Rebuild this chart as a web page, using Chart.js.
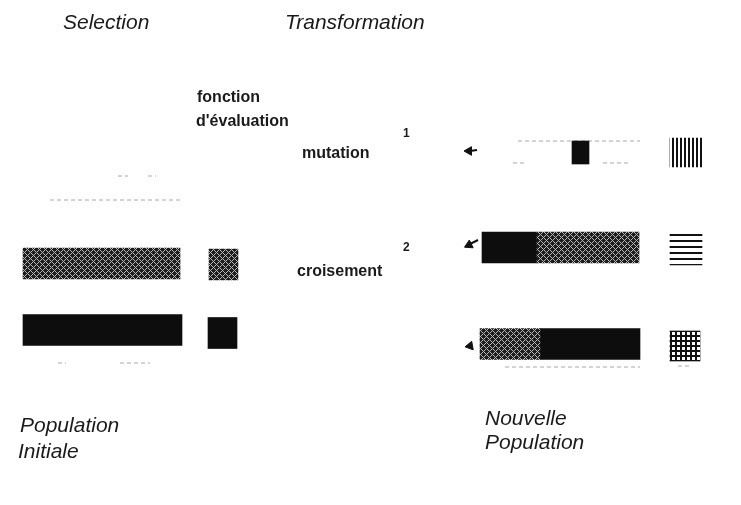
<!DOCTYPE html>
<html>
<head>
<meta charset="utf-8">
<script src="https://cdn.jsdelivr.net/npm/chart.js@4.4.1/dist/chart.umd.min.js"></script>
<style>
  html, body { margin: 0; padding: 0; background: #fff; }
  #wrap { width: 741px; height: 505px; }
</style>
</head>
<body>
<div id="wrap"><canvas id="myChart" width="741" height="505"></canvas></div>
<script>
// Chromosome blocks: [start, end, row]
const hatchBlocks = [[23, 180, 263.5], [209, 238, 264.5], [537, 639, 247.5], [480, 540, 344]];
const blackBlocks = [[23, 182, 330], [208, 237, 333], [482, 537, 247.5], [540, 640, 344]];
const mutatedBlocks = [[572, 589, 152.5]];
const vLineBlocks = [[670, 702, 152.5]];
const hLineBlocks = [[670, 702, 249]];
const gridBlocks = [[670, 700, 346]];

// arrows into the new population: [x, y, angle]
const arrows = [[469, 151, -90], [469, 245, -116], [470, 346, -100]];
// arrow tails: [x0, y0, x1, y1]
const arrowTails = [[470, 151, 477, 150], [470, 244, 478, 240]];

// faint scan remnants: [x0, x1, y]
const faintLines = [[118, 128, 176], [148, 156, 176], [50, 180, 200], [58, 66, 363], [120, 150, 363],
  [518, 640, 141], [513, 524, 163], [603, 630, 163], [505, 640, 367], [678, 692, 366]];

// text labels
const labels = [
  ['Selection', 63, 29, 'italic 21px "Liberation Sans"'],
  ['Transformation', 285, 29, 'italic 21px "Liberation Sans"'],
  ['fonction', 197, 102, 'bold 16px "Liberation Sans"'],
  ["d'évaluation", 196, 126, 'bold 16px "Liberation Sans"'],
  ['1', 403, 137, 'bold 12px "Liberation Sans"'],
  ['mutation', 302, 158, 'bold 16px "Liberation Sans"'],
  ['2', 403, 251, 'bold 12px "Liberation Sans"'],
  ['croisement', 297, 276, 'bold 16px "Liberation Sans"'],
  ['Population', 20, 432, 'italic 21px "Liberation Sans"'],
  ['Initiale', 18, 458, 'italic 21px "Liberation Sans"'],
  ['Nouvelle', 485, 425, 'italic 21px "Liberation Sans"'],
  ['Population', 485, 449, 'italic 21px "Liberation Sans"']
];

function makePattern(w, h, draw) {
    const c = document.createElement('canvas');
    c.width = w; c.height = h;
    const g = c.getContext('2d');
    draw(g);
    return document.getElementById('myChart').getContext('2d').createPattern(c, 'repeat');
}

const hatchPattern = makePattern(6, 6, g => {
    g.fillStyle = '#1e1e1e';
    g.fillRect(0, 0, 6, 6);
    g.fillStyle = '#b8b8b8';
    for (let x = 0; x < 6; x++) {
        for (let y = 0; y < 6; y++) {
            if ((x + y) % 6 === 0 || (x - y + 6) % 6 === 0) g.fillRect(x, y, 1, 1);
        }
    }
});
const vLinePattern = makePattern(4, 4, g => {
    g.fillStyle = '#fff'; g.fillRect(0, 0, 4, 4);
    g.fillStyle = '#111'; g.fillRect(0, 0, 2, 4);
});
const hLinePattern = makePattern(6, 6, g => {
    g.fillStyle = '#fff'; g.fillRect(0, 0, 6, 6);
    g.fillStyle = '#111'; g.fillRect(0, 0, 6, 2);
});
const gridPattern = makePattern(5, 5, g => {
    g.fillStyle = '#fff'; g.fillRect(0, 0, 5, 5);
    g.fillStyle = '#111'; g.fillRect(0, 0, 5, 2); g.fillRect(0, 0, 2, 5);
});

const toBars = blocks => blocks.map(b => ({ x: [b[0], b[1]], y: b[2] }));

function barSet(blocks, fill, thickness) {
    return {
        type: 'bar',
        data: toBars(blocks),
        backgroundColor: fill,
        borderWidth: 0,
        barThickness: thickness,
        grouped: false
    };
}

const lineSets = faintLines.map(l => ({
    type: 'scatter',
    data: [{ x: l[0], y: l[2] }, { x: l[1], y: l[2] }],
    showLine: true,
    borderColor: '#a8a8a8',
    borderWidth: 1,
    borderDash: [4, 3],
    pointRadius: 0
}));

const tailSets = arrowTails.map(t => ({
    type: 'scatter',
    data: [{ x: t[0], y: t[1] }, { x: t[2], y: t[3] }],
    showLine: true,
    borderColor: '#111',
    borderWidth: 2,
    pointRadius: 0
}));

const textPlugin = {
    id: 'texts',
    afterDatasetsDraw(chart) {
        const { ctx, scales: { x, y } } = chart;
        ctx.save();
        ctx.fillStyle = '#1a1a1a';
        ctx.textBaseline = 'alphabetic';
        labels.forEach(([t, px, py, font]) => {
            ctx.font = font;
            ctx.fillText(t, x.getPixelForValue(px), y.getPixelForValue(py));
        });
        ctx.restore();
    }
};

new Chart(document.getElementById('myChart'), {
    type: 'bar',
    data: {
        datasets: [
            barSet(hatchBlocks, hatchPattern, 31),
            barSet(blackBlocks, '#0d0d0d', 31),
            barSet(mutatedBlocks, '#0d0d0d', 23),
            barSet(vLineBlocks, vLinePattern, 29),
            barSet(hLineBlocks, hLinePattern, 32),
            barSet(gridBlocks, gridPattern, 30),
            {
                type: 'scatter',
                data: arrows.map(a => ({ x: a[0], y: a[1] })),
                pointStyle: 'triangle',
                pointRotation: arrows.map(a => a[2]),
                pointRadius: 5,
                pointBackgroundColor: '#111',
                pointBorderColor: '#111',
                pointBorderWidth: 1
            },
            ...tailSets,
            ...lineSets
        ]
    },
    options: {
        indexAxis: 'y',
        responsive: false,
        animation: false,
        layout: { padding: 0, autoPadding: false },
        plugins: { legend: { display: false }, tooltip: { enabled: false } },
        scales: {
            x: { type: 'linear', min: 0, max: 741, offset: false, display: false },
            y: { type: 'linear', min: 0, max: 505, reverse: true, offset: false, display: false }
        }
    },
    plugins: [textPlugin]
});
</script>
</body>
</html>
